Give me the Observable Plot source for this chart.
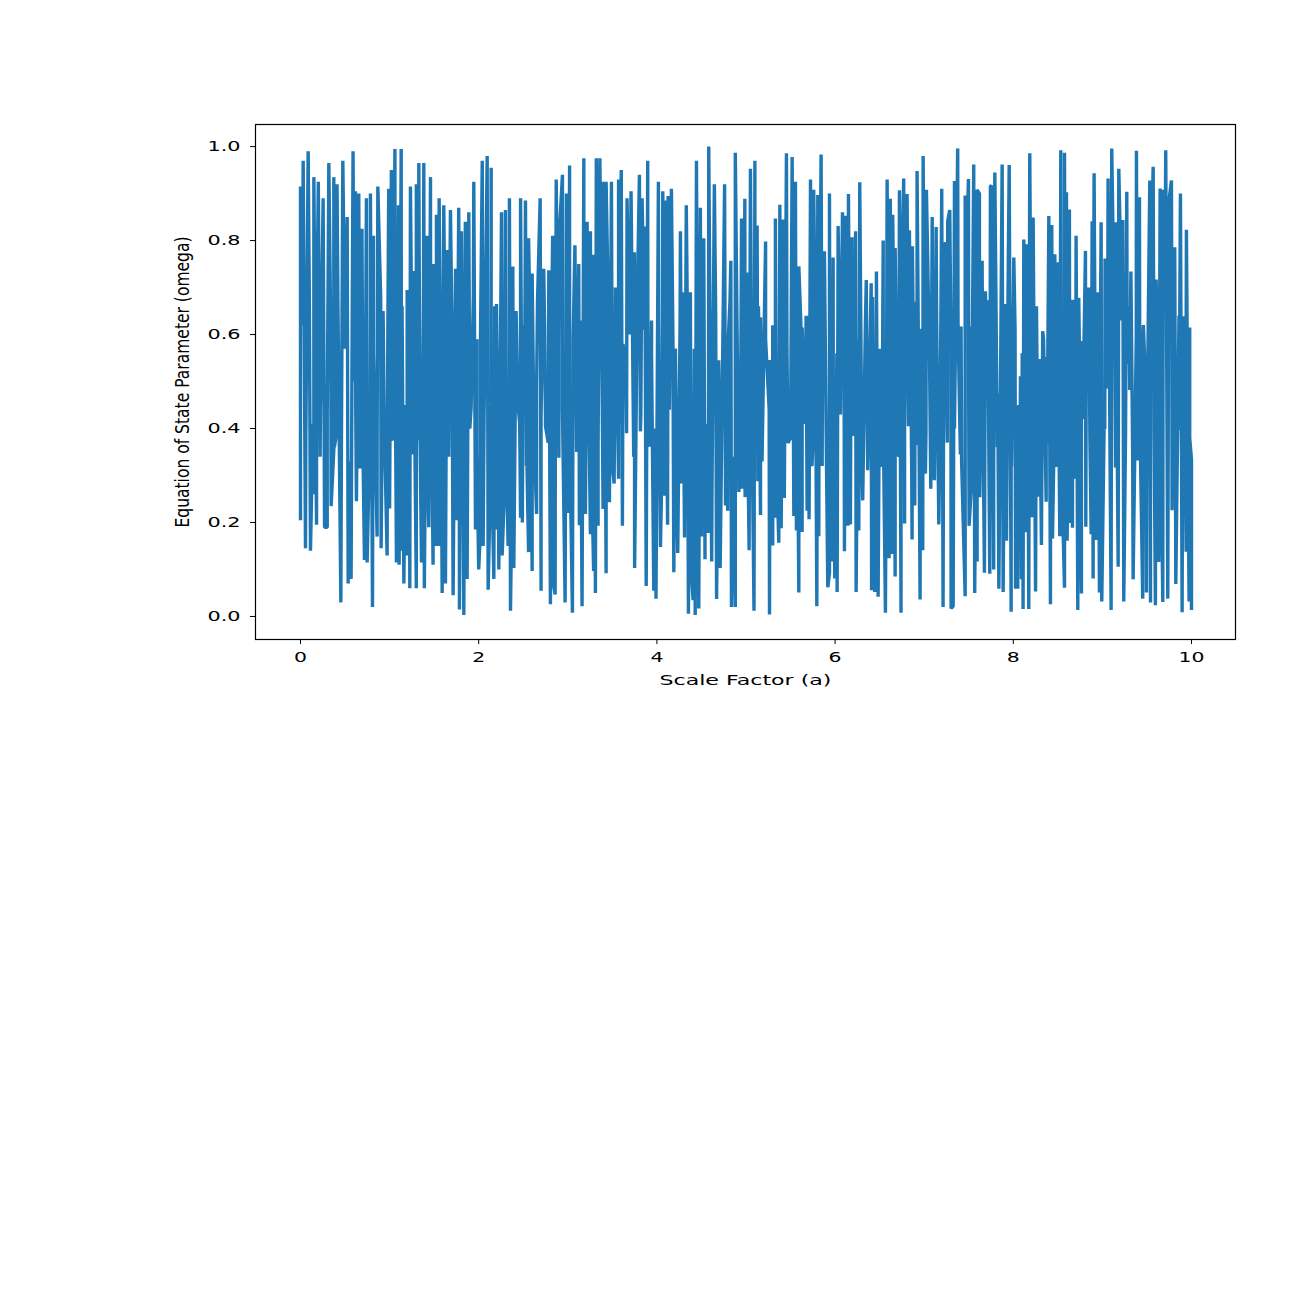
<!DOCTYPE html>
<html>
<head>
<meta charset="utf-8">
<script src="https://cdn.jsdelivr.net/npm/d3@7"></script>
<script src="https://cdn.jsdelivr.net/npm/@observablehq/plot@0.6"></script>
<style>body{margin:0;background:#fff}svg{display:block}</style>
</head>
<body>
<div id="chart"></div>
<script>
const xTicks = [0, 2, 4, 6, 8, 10];
const yTicks = [0, 0.2, 0.4, 0.6, 0.8, 1];
const xTitle = "Scale Factor (a)";
const yTitle = "Equation of State Parameter (omega)";

const peakA = [0,.03,.086,.15,.2,.254,.318,.374,.41,.475,.524,.59,.617,.654,.69,.74,.785,.82,.868,.927,.99,1.02,1.06,1.1,1.13,1.197,1.234,1.264,1.3,1.328,1.384,1.42,1.459,1.496,1.526,1.556,1.608,1.645,1.683,1.74,1.776,1.806,1.85,1.889,1.945,1.98,
2.04,2.095,2.14,2.2,2.256,2.3,2.345,2.383,2.47,2.525,2.56,2.6,2.65,2.69,2.73,2.787,2.83,2.87,2.906,2.94,2.985,3.02,3.08,3.123,3.18,3.217,3.254,3.29,3.32,3.36,3.396,3.43,3.49,3.535,3.57,3.6,3.665,3.71,3.748,3.804,3.834,3.864,3.897,3.94,4.017,4.066,4.096,4.126,4.163,4.208,4.264,4.3,4.33,4.376,4.444,4.488,4.526,4.582,4.645,4.694,4.76,4.8,4.83,
4.88,4.95,4.987,5.02,5.05,5.1,5.125,5.163,5.22,5.27,5.33,5.38,5.417,5.454,5.518,5.555,5.593,5.63,5.675,5.724,5.76,5.806,5.843,5.88,5.937,5.978,6.034,6.083,6.116,6.15,6.19,6.23,6.277,6.35,6.405,6.464,6.51,6.54,6.584,6.62,6.647,6.674,6.722,6.77,6.808,6.834,6.868,6.92,6.958,6.988,7.025,7.09,7.134,7.197,7.238,7.264,7.287,7.34,7.376,7.414,7.46,7.497,7.53,7.556,7.594,7.62,7.65,7.687,7.713,7.743,
7.755,7.793,7.826,7.875,7.912,7.954,7.976,8.006,8.043,8.08,8.118,8.156,8.185,8.223,8.268,8.294,8.33,8.369,8.399,8.432,8.466,8.496,8.533,8.575,8.597,8.63,8.668,8.705,8.735,8.765,8.81,8.848,8.885,8.907,8.948,8.986,9.03,9.064,9.105,9.147,9.184,9.229,9.274,9.32,9.382,9.416,9.453,9.483,9.532,9.57,9.603,9.648,9.682,9.711,9.745,9.775,9.812,9.876,9.913,9.943,9.98,10];
const peakW = [.915,.97,.99,.935,.925,.89,.965,.935,.92,.97,.85,.99,.905,.9,.825,.89,.9,.81,.915,.65,.91,.95,.995,.875,.995,.695,.915,.735,.92,.965,.965,.81,.935,.75,.855,.89,.875,.78,.865,.74,.87,.82,.84,.86,.925,.59,
.97,.98,.955,.665,.86,.865,.89,.745,.89,.885,.805,.73,.49,.89,.74,.737,.81,.93,.82,.94,.9,.96,.79,.75,.975,.84,.82,.77,.975,.975,.925,.925,.925,.7,.93,.95,.89,.905,.775,.94,.89,.83,.97,.63,.925,.905,.885,.895,.91,.57,.82,.69,.875,.69,.97,.87,.805,1,.92,.545,.92,.585,.757,
.987,.847,.889,.732,.953,.97,.832,.637,.798,.546,.847,.876,.845,.986,.978,.925,.745,.615,.64,.93,.908,.897,.983,.777,.9,.764,.831,.86,.853,.899,.807,.82,.924,.716,.709,.734,.52,.8,.93,.889,.855,.784,.907,.932,.899,.822,.788,.948,.608,.98,.908,.85,.829,.91,.797,.841,.865,.927,.996,.617,.896,.931,.617,.962,.908,.9,.757,.692,.673,.915,
.917,.945,.474,.962,.665,.961,.529,.764,.364,.511,.802,.792,.986,.849,.509,.548,.607,.552,.852,.833,.771,.754,.992,.987,.903,.866,.674,.81,.678,.586,.778,.7,.841,.943,.69,.839,.762,.932,.996,.839,.953,.844,.904,.734,.991,.892,.593,.501,.928,.957,.717,.911,.908,.992,.881,.928,.786,.9,.639,.823,.615,.334];

const troughA = [0,.056,.112,.15,.18,.224,.27,.3,.344,.374,.41,.453,.535,.568,.6,.628,.666,.718,.748,.77,.808,.86,.905,.972,1,1.036,1.077,1.107,1.133,1.16,1.197,1.227,1.264,1.3,1.328,1.358,1.39,1.44,1.488,1.526,1.552,1.59,1.627,1.664,1.713,1.75,1.784,1.833,1.87,1.915,1.964,2,2.02,
2.05,2.106,2.14,2.17,2.2,2.226,2.263,2.29,2.33,2.357,2.394,2.44,2.47,2.49,2.514,2.536,2.56,2.6,2.626,2.65,2.7,2.75,2.805,2.835,2.858,2.9,2.97,3.01,3.052,3.105,3.13,3.16,3.198,3.254,3.29,3.31,3.34,3.396,3.43,3.467,3.52,3.57,3.613,3.654,3.69,3.75,3.815,3.88,3.92,3.965,3.99,4.04,4.084,4.12,4.19,4.234,4.28,4.31,4.354,4.384,4.406,4.43,4.47,4.5,4.54,4.578,4.615,4.67,4.71,4.77,4.795,
4.837,4.88,4.92,4.957,4.99,5.035,5.07,5.09,5.133,5.163,5.264,5.3,5.33,5.368,5.395,5.43,5.47,5.537,5.566,5.593,5.63,5.656,5.686,5.708,5.753,5.795,5.817,5.855,5.918,5.937,5.967,5.997,6.023,6.06,6.105,6.143,6.172,6.195,6.236,6.266,6.31,6.366,6.41,6.445,6.483,6.526,6.565,6.606,6.64,6.674,6.715,6.74,6.78,6.823,6.864,6.894,6.92,6.954,6.984,7.014,7.074,7.115,7.164,7.212,7.257,7.302,7.325,7.406,7.46,7.504,7.526,7.567,7.594,7.624,7.676,7.736,
7.78,7.838,7.886,7.924,7.976,8.025,8.05,8.073,8.092,8.11,8.137,8.174,8.21,8.25,8.286,8.316,8.369,8.417,8.44,8.485,8.522,8.575,8.604,8.634,8.664,8.694,8.724,8.765,8.814,8.874,8.896,8.93,8.967,8.993,9.027,9.057,9.098,9.147,9.177,9.24,9.278,9.307,9.345,9.397,9.453,9.495,9.54,9.595,9.633,9.678,9.734,9.782,9.824,9.861,9.895,9.94,9.973,10];
const troughW = [.205,.145,.14,.26,.195,.445,.19,.19,.235,.355,.395,.03,.07,.08,.5,.245,.315,.12,.115,.31,.02,.17,.145,.13,.23,.375,.115,.11,.14,.07,.13,.06,.345,.06,.375,.115,.06,.19,.11,.15,.15,.05,.07,.34,.045,.205,.015,.003,.08,.445,.185,.1,.185,
.15,.057,.365,.08,.185,.1,.13,.27,.15,.012,.103,.455,.21,.2,.43,.32,.137,.097,.35,.218,.055,.405,.026,.074,.047,.338,.03,.22,.008,.37,.194,.022,.218,.175,.097,.05,.193,.229,.092,.243,.283,.293,.193,.513,.6,.103,.394,.065,.362,.055,.038,.148,.257,.195,.094,.135,.283,.168,.006,.1,.035,.003,.017,.17,.122,.178,.117,.037,.103,.236,.225,
.02,.02,.265,.272,.254,.141,.362,.012,.288,.216,.004,.151,.21,.157,.188,.252,.369,.214,.183,.051,.18,.415,.225,.207,.376,.022,.171,.32,.062,.092,.117,.081,.052,.48,.139,.193,.196,.385,.052,.183,.247,.311,.056,.052,.042,.318,.008,.124,.133,.085,.34,.008,.198,.405,.164,.236,.365,.036,.141,.304,.272,.29,.196,.02,.398,.017,.022,.345,.043,.193,.265,.05,.117,.254,.093,.091,
.1,.059,.052,.161,.01,.059,.059,.148,.079,.016,.179,.016,.211,.053,.255,.152,.244,.026,.166,.318,.171,.061,.161,.199,.189,.293,.014,.049,.191,.175,.081,.163,.051,.032,.399,.485,.014,.317,.106,.032,.537,.482,.079,.332,.038,.051,.03,.024,.116,.031,.038,.226,.069,.397,.009,.138,.032,.014];

// Mid-band crossings: the reference is solid here, so these are estimates, one every 0.04 in a.
const midW = [.62,.38,.66,.41,.58,.34,.64,.43,.6,.36,.67,.4,.57,.33,.63,.44,.61,.37,.65,.39,.56,.35,.68,.42,.59,.38,.63,.32,.66,.45,
.6,.36,.58,.41,.67,.34,.62,.43,.55,.39,.65,.37,.61,.33,.64,.44,.57,.4,.68,.35,.59,.42,.63,.38,.66,.31,.6,.45,.56,.36,
.65,.41,.62,.34,.58,.39,.67,.43,.61,.37,.64,.33,.57,.44,.66,.4,.59,.35,.63,.42,.68,.38,.55,.36,.62,.45,.6,.32,.65,.41,
.58,.39,.64,.34,.67,.43,.61,.37,.56,.4,.63,.35,.66,.44,.59,.33,.62,.42,.68,.38,.57,.36,.65,.41,.6,.31,.64,.45,.58,.39,
.67,.34,.61,.43,.55,.37,.63,.4,.66,.33,.59,.44,.62,.35,.68,.42,.57,.38,.65,.36,.6,.41,.64,.32,.58,.45,.67,.39,.61,.34,
.56,.43,.63,.37,.66,.4,.59,.33,.62,.44,.68,.35,.57,.42,.65,.38,.6,.36,.64,.41,.58,.31,.67,.45,.61,.39,.55,.34,.63,.43,
.66,.37,.59,.4,.62,.33,.68,.44,.57,.35,.65,.42,.6,.38,.64,.36,.58,.41,.67,.32,.61,.45,.56,.39,.63,.34,.66,.43,.59,.37,
.62,.4,.68,.33,.57,.44,.65,.35,.6,.42,.64,.38,.58,.36,.67,.41,.61,.31,.55,.45,.63,.39,.66,.34,.59,.43,.62,.37,.68,.4,
.57,.33,.65,.44,.6,.35,.64,.42,.58,.38];

const series = [
  ...troughA.map((a, i) => ({a, w: troughW[i]})),
  ...peakA.map((a, i) => ({a, w: peakW[i]})),
  ...midW.map((w, i) => ({a: (i + 0.5) * 10 / midW.length, w}))
].sort((p, q) => d3.ascending(p.a, q.a));
const last = series.findLastIndex(d => d.a === 10);
series.push(series.splice(last - 1, 1)[0]);

const W = 1308, H = 720;
const plot = Plot.plot({
  width: W,
  height: H,
  marginLeft: 255,
  marginRight: 73,
  marginTop: 124,
  marginBottom: H - 639,
  style: {background: "#fff", overflow: "visible"},
  x: {domain: [-0.505, 10.494]},
  y: {domain: [-0.049, 1.047]},
  marks: [
    Plot.lineY(series, {x: "a", y: "w", stroke: "#1f77b4", strokeWidth: 3.4, strokeLinejoin: "bevel", strokeLinecap: "butt"}),
    Plot.frame({stroke: "#000", strokeWidth: 1.2}),
    Plot.axisX({ticks: xTicks, tickFormat: d3.format("d"), tickSize: 5, tickPadding: 8, fontSize: 14, fontFamily: "DejaVu Sans", color: "#000", stroke: "#000",
      label: xTitle, labelAnchor: "center", labelArrow: "none", labelOffset: 45}),
    Plot.axisY({ticks: yTicks, tickFormat: d3.format(".1f"), tickSize: 5, tickPadding: 10, fontSize: 14, fontFamily: "DejaVu Sans", color: "#000", stroke: "#000",
      label: yTitle, labelAnchor: "center", labelArrow: "none", labelOffset: 81})
  ]
});

function fit(selector, length, size) {
  plot.querySelectorAll(selector).forEach(t => {
    const n = typeof length === "function" ? length(t.textContent) : length;
    t.setAttribute("textLength", n);
    t.setAttribute("lengthAdjust", "spacingAndGlyphs");
    if (size) t.setAttribute("font-size", size);
  });
}
fit('g[aria-label="x-axis tick label"] text', s => s.length === 1 ? 13 : 26);
fit('g[aria-label="y-axis tick label"] text', 33);
fit('g[aria-label="x-axis label"] text', 172, 14);
fit('g[aria-label="y-axis label"] text', 291, 20);
document.getElementById("chart").append(plot);
</script>
</body>
</html>
